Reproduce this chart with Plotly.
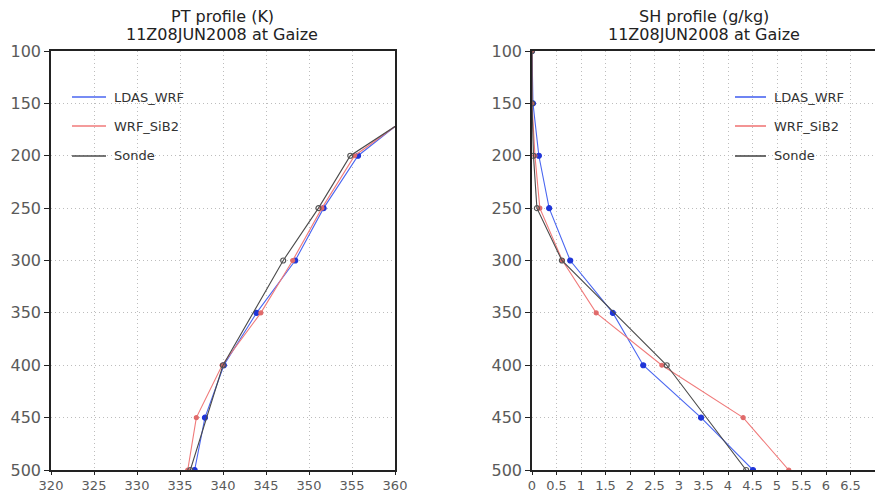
import plotly.graph_objects as go

# Pressure levels (hPa)
levels = [100, 150, 200, 250, 300, 350, 400, 450, 500]
sonde_levels = [100, 150, 200, 250, 300, 400, 500]

# Potential temperature (K)
pt_ldas = [385, 363.4, 355.7, 351.7, 348.4, 343.9, 340.1, 337.9, 336.7]
pt_sib2 = [385, 363.7, 355.3, 351.5, 348.1, 344.4, 339.9, 336.9, 335.9]
pt_sonde = [385, 364.1, 354.8, 351.1, 347.0, 340.0, 336.2]

# Specific humidity (g/kg)
sh_ldas = [0.0, 0.02, 0.14, 0.35, 0.78, 1.65, 2.27, 3.45, 4.51]
sh_sib2 = [0.0, 0.0, 0.06, 0.16, 0.62, 1.31, 2.65, 4.31, 5.24]
sh_sonde = [0.0, 0.0, 0.03, 0.10, 0.61, 2.75, 4.37]

pt_ticks = [320, 325, 330, 335, 340, 345, 350, 355, 360]
sh_ticks = [0, 0.5, 1, 1.5, 2, 2.5, 3, 3.5, 4, 4.5, 5, 5.5, 6, 6.5, 7]
sh_ticktext = ["0", "0.5", "1", "1.5", "2", "2.5", "3", "3.5", "4", "4.5",
               "5", "5.5", "6", "6.5", "7"]
p_ticks = [100, 150, 200, 250, 300, 350, 400, 450, 500]

names = ["LDAS_WRF", "WRF_SiB2", "Sonde"]
line_colors = ["#4a66f0", "#f07a7a", "#4a4a4a"]
marker_colors = ["#1f35d8", "#e06a6a", "#555555"]
marker_symbols = ["circle", "circle", "circle-open"]
marker_sizes = [5, 4, 5]

W, H = 875, 493
fig = go.Figure()


def add_series(xs, ys, i, xa, ya):
    fig.add_trace(go.Scatter(
        x=xs, y=ys, mode="lines+markers", name=names[i], showlegend=False,
        line=dict(color=line_colors[i], width=1.1),
        marker=dict(color=marker_colors[i], size=marker_sizes[i],
                    symbol=marker_symbols[i], line=dict(width=1.2, color=marker_colors[i])),
        xaxis=xa, yaxis=ya))


# Left panel: PT
add_series(pt_ldas, levels, 0, "x", "y")
add_series(pt_sib2, levels, 1, "x", "y")
add_series(pt_sonde, sonde_levels, 2, "x", "y")
# Right panel: SH
add_series(sh_ldas, levels, 0, "x2", "y2")
add_series(sh_sib2, levels, 1, "x2", "y2")
add_series(sh_sonde, sonde_levels, 2, "x2", "y2")

font_family = "DejaVu Sans, Verdana, sans-serif"
y_dom = [(H - 470) / H, (H - 51) / H]

common_axis = dict(
    showline=True, mirror=True, linecolor="#222222", linewidth=1.6,
    ticks="outside", tickwidth=1.2, tickcolor="#222222",
    showgrid=True, gridcolor="#bdbdbd", griddash="1px,3px", gridwidth=1,
    zeroline=False, automargin=False,
)
x_tickfont = dict(family=font_family, size=13, color="#5a5a5a")
y_tickfont = dict(family=font_family, size=16, color="#5a5a5a")

fig.update_layout(
    width=W, height=H,
    margin=dict(l=0, r=0, t=0, b=0),
    paper_bgcolor="white", plot_bgcolor="white",
    showlegend=False,
    xaxis=dict(domain=[51 / W, 395 / W], range=[320, 360], tickvals=pt_ticks,
               anchor="y", ticklen=3, tickfont=x_tickfont, **common_axis),
    yaxis=dict(domain=y_dom, range=[500, 100], tickvals=p_ticks, anchor="x",
               ticklen=5, tickfont=y_tickfont, **common_axis),
    xaxis2=dict(domain=[532 / W, 1.0], range=[0, 7], tickvals=sh_ticks,
                ticktext=sh_ticktext, anchor="y2", ticklen=3,
                tickfont=x_tickfont, **common_axis),
    yaxis2=dict(domain=y_dom, range=[500, 100], tickvals=p_ticks, anchor="x2",
                ticklen=5, tickfont=y_tickfont, **common_axis),
)

# Panel titles
titles = [
    (222, ["PT profile (K)", "11Z08JUN2008 at Gaize"]),
    (704, ["SH profile (g/kg)", "11Z08JUN2008 at Gaize"]),
]
for cx, lines in titles:
    for j, txt in enumerate(lines):
        fig.add_annotation(
            x=cx / W, y=1 - (17 + 17 * j) / H, xref="paper", yref="paper",
            text=txt, showarrow=False, xanchor="center", yanchor="middle",
            font=dict(family=font_family, size=16, color="#222222"))

# In-panel legends
legend_pos = [(72, 106, 112), (735, 766, 772)]
legend_rows = [97, 126, 156]
for x0, x1, tx in legend_pos:
    for i, ry in enumerate(legend_rows):
        fig.add_shape(type="line", xref="paper", yref="paper",
                      x0=x0 / W, x1=x1 / W, y0=1 - ry / H, y1=1 - ry / H,
                      line=dict(color=line_colors[i], width=1.6))
        fig.add_annotation(x=tx / W, y=1 - ry / H, xref="paper", yref="paper",
                           text=names[i], showarrow=False, xanchor="left",
                           yanchor="middle",
                           font=dict(family=font_family, size=13, color="#333333"))

fig.write_html("out.html")
